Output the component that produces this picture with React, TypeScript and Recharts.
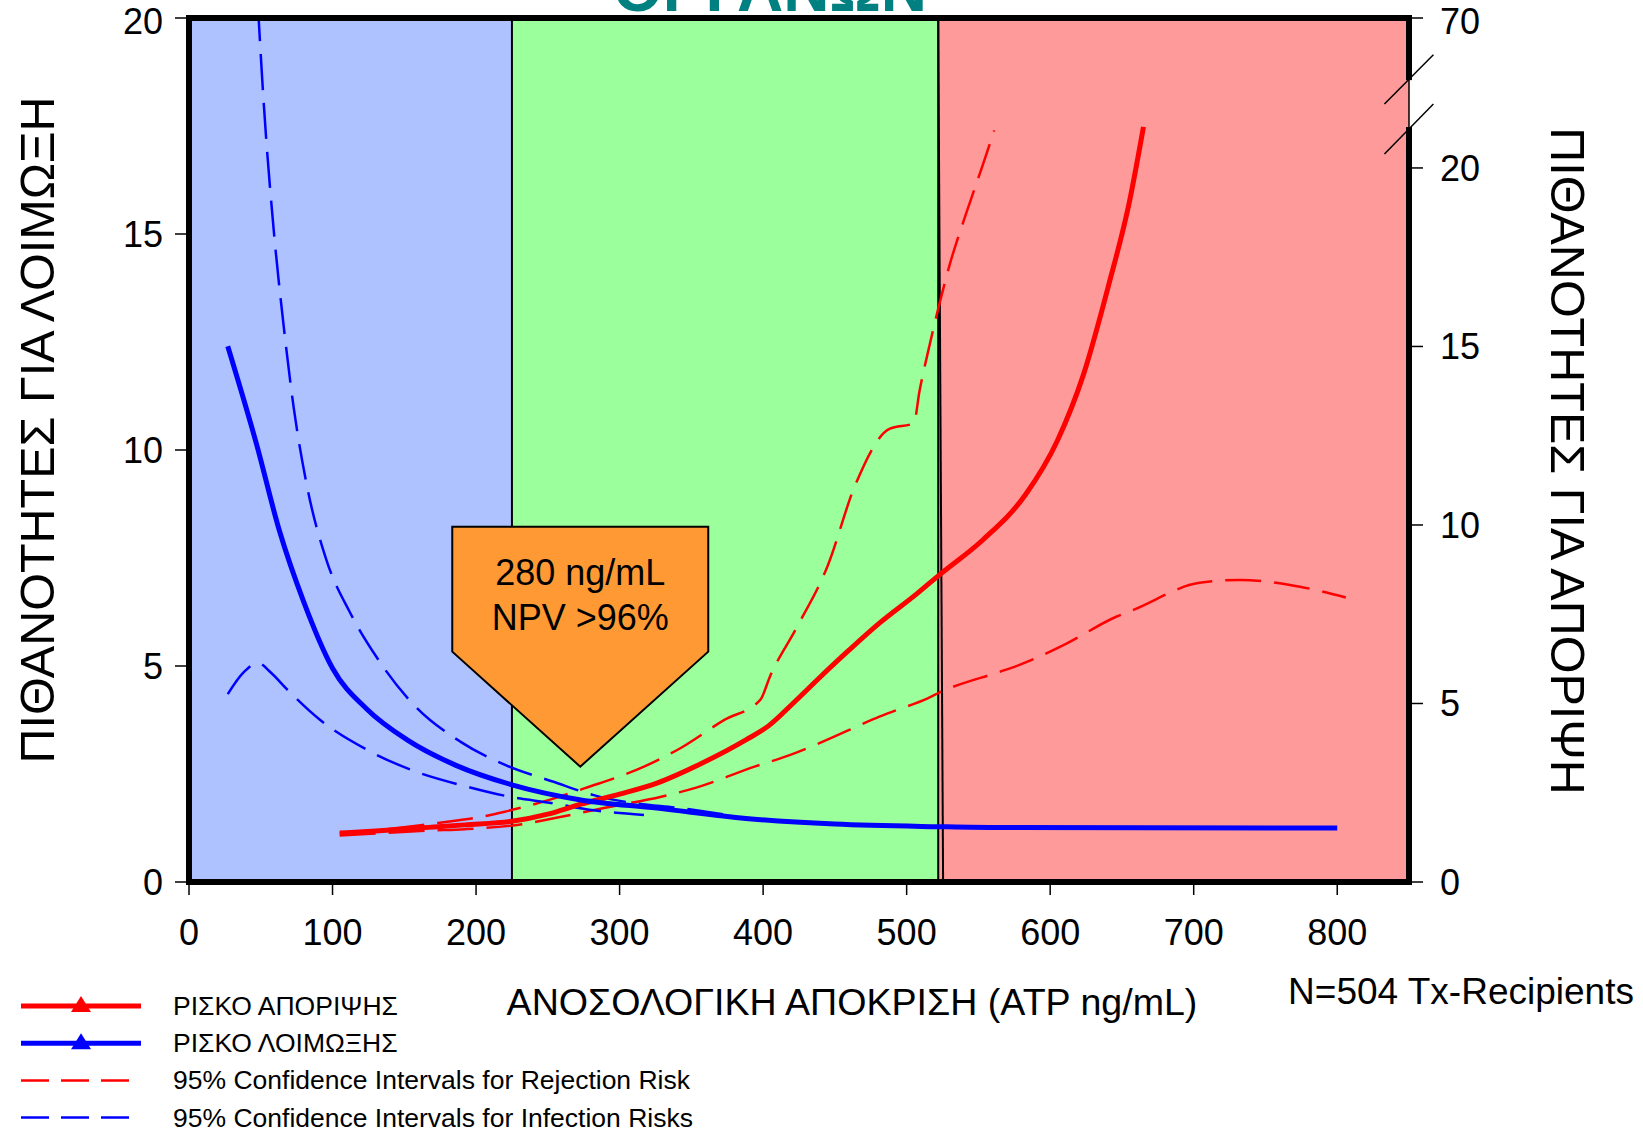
import React from "react";
import {
  Customized,
  Line,
  LineChart,
  ReferenceArea,
  ReferenceDot,
  ReferenceLine,
  XAxis,
  YAxis,
} from "recharts";

// ATP response (ng/mL) on the x axis
const atpTicks = [0, 100, 200, 300, 400, 500, 600, 700, 800];
const infectionTicks = [0, 5, 10, 15, 20];
const rejectionTicks = [0, 5, 10, 15, 20, 24.2];
const rejectionTickLabels = ["0", "5", "10", "15", "20", "70"];

// zone boundaries: low / moderate / strong immune response
const zoneEdges = [0, 225, 522, 850];

// rejection risk (right axis)
const rejectionAtp = [105, 130, 167, 192, 225, 250, 273, 300, 326, 357, 388, 404, 422, 440, 460, 481, 507, 523, 553, 583, 605, 623, 641, 655, 665];
const rejectionRisk = [1.37, 1.43, 1.53, 1.6, 1.7, 1.9, 2.18, 2.46, 2.77, 3.32, 3.98, 4.38, 5.05, 5.75, 6.5, 7.25, 8.07, 8.61, 9.58, 10.86, 12.36, 14.19, 16.76, 19.01, 21.15];

const rejUpperAtp = [105, 130, 160, 180, 200, 220, 251, 276, 317, 342, 373, 398, 405, 423, 445, 464, 488, 505, 509, 516, 523, 530, 542, 553, 561];
const rejUpper = [1.37, 1.45, 1.58, 1.69, 1.8, 1.97, 2.3, 2.63, 3.23, 3.74, 4.54, 5.1, 5.78, 7.1, 8.86, 11.1, 12.69, 12.85, 13.76, 15.04, 16.22, 17.29, 18.79, 20.08, 21.05];

const rejLowerAtp = [105, 130, 167, 192, 232, 255, 290, 329, 354, 394, 419, 460, 481, 492, 515, 523, 565, 576, 611, 646, 658, 704, 732, 774, 806];
const rejLower = [1.3, 1.36, 1.44, 1.48, 1.62, 1.79, 2.08, 2.39, 2.65, 3.23, 3.56, 4.26, 4.63, 4.8, 5.15, 5.31, 5.89, 6.04, 6.67, 7.43, 7.62, 8.38, 8.46, 8.27, 7.97];

// infection risk (left axis)
const infectionAtp = [27, 47, 63, 80, 100, 124, 152, 186, 225, 273, 326, 388, 450, 522, 565, 800];
const infectionRisk = [12.4, 10.14, 8.13, 6.48, 4.95, 4.0, 3.29, 2.7, 2.25, 1.9, 1.71, 1.47, 1.34, 1.28, 1.26, 1.25];

const infUpperAtp = [48, 52, 59, 66, 73, 82, 96, 112, 131, 156, 189, 221, 254, 282, 351, 380];
const infUpper = [20.3, 18.06, 15.1, 12.86, 10.97, 9.2, 7.43, 6.25, 5.19, 4.12, 3.25, 2.7, 2.32, 2.01, 1.67, 1.53];

const infLowerAtp = [27, 38, 48, 57, 68, 91, 124, 156, 191, 221, 254, 282, 317];
const infLower = [4.35, 4.85, 5.07, 4.85, 4.47, 3.76, 3.06, 2.58, 2.23, 1.99, 1.82, 1.66, 1.55];

// callout arrow pointing at the 280 ng/mL cut-off
const calloutTip = { atp: 272.6, risk: 2.67 };
const calloutLines = ["280 ng/mL", "NPV >96%"];

const FONT = "'Liberation Sans', Arial, Helvetica, sans-serif";
const RED = "#ff0000";
const BLUE = "#0000ff";
const ZONE_COLORS = ["#adc2ff", "#9bff9b", "#ff9a9a"];
const DASH = "36 13";

function zip(xs: number[], ys: number[]) {
  return xs.map((atp, i) => ({ atp, risk: ys[i] }));
}

const legendItems = [
  { label: "ΡΙΣΚΟ ΑΠΟΡΙΨΗΣ", color: RED, dashed: false },
  { label: "ΡΙΣΚΟ ΛΟΙΜΩΞΗΣ", color: BLUE, dashed: false },
  { label: "95% Confidence Intervals for Rejection Risk", color: RED, dashed: true },
  { label: "95% Confidence Intervals for Infection Risks", color: BLUE, dashed: true },
];

function Callout({ cx, cy }: { cx: number; cy: number }) {
  const w = 256;
  const h = 240;
  const shoulder = 125;
  const top = cy - h;
  const l = cx - w / 2;
  const r = cx + w / 2;
  const d = `M${l},${top} L${r},${top} L${r},${top + shoulder} L${cx},${cy} L${l},${top + shoulder} Z`;
  return (
    <g>
      <path d={d} fill="#ff9933" stroke="#000" strokeWidth={2} />
      {calloutLines.map((t, i) => (
        <text key={t} x={cx} y={top + 58 + i * 45} textAnchor="middle" fontSize={36} fontFamily={FONT} fill="#000">
          {t}
        </text>
      ))}
    </g>
  );
}

function Decorations() {
  return (
    <g fontFamily={FONT}>
      <text x={770} y={11} textAnchor="middle" fontSize={64} fontWeight="bold" fill="#008080">
        ΟΡΓΑΝΩΝ
      </text>
      <text
        transform="translate(37,430) rotate(-90)"
        textAnchor="middle"
        dominantBaseline="central"
        fontSize={48.5}
        fill="#000"
      >
        ΠΙΘΑΝΟΤΗΤΕΣ ΓΙΑ ΛΟΙΜΩΞΗ
      </text>
      <text
        transform="translate(1568,461) rotate(90)"
        textAnchor="middle"
        dominantBaseline="central"
        fontSize={48.5}
        fill="#000"
      >
        ΠΙΘΑΝΟΤΗΤΕΣ ΓΙΑ ΑΠΟΡΙΨΗ
      </text>
      <text x={852} y={1002} textAnchor="middle" dominantBaseline="central" fontSize={37.6} fill="#000">
        ΑΝΟΣΟΛΟΓΙΚΗ ΑΠΟΚΡΙΣΗ (ATP ng/mL)
      </text>
      <text x={1461} y={991} textAnchor="middle" dominantBaseline="central" fontSize={37} fill="#000">
        N=504 Tx-Recipients
      </text>
      {legendItems.map((item, i) => {
        const cy = 1006 + i * 37.2;
        return (
          <g key={item.label}>
            {item.dashed ? (
              <line x1={21} x2={131} y1={cy} y2={cy} stroke={item.color} strokeWidth={2.5} strokeDasharray="28 12" />
            ) : (
              <>
                <line x1={21} x2={141} y1={cy} y2={cy} stroke={item.color} strokeWidth={5} />
                <path d={`M${71},${cy + 6} L${91},${cy + 6} L${81},${cy - 10} Z`} fill={item.color} />
              </>
            )}
            <text x={173} y={cy} dominantBaseline="central" fontSize={26.5} fill="#000">
              {item.label}
            </text>
          </g>
        );
      })}
    </g>
  );
}

export default function App() {
  const tickStyle = { fontSize: 36, fill: "#000", fontFamily: FONT };
  const frame = { stroke: "#000", strokeWidth: 6 };
  return (
    <div style={{ position: "absolute", left: 0, top: 0, width: 1643, height: 1132, background: "#fff" }}>
      <LineChart width={1643} height={1132} margin={{ top: 18, right: 134, bottom: 190, left: 89 }}>
        <XAxis
          type="number"
          dataKey="atp"
          domain={[0, 850]}
          ticks={atpTicks}
          allowDataOverflow
          height={60}
          tickSize={13}
          tickMargin={24}
          tick={tickStyle}
          tickLine={{ stroke: "#000", strokeWidth: 1.5 }}
          axisLine={{ ...frame, strokeLinecap: "square" }}
        />
        <YAxis
          yAxisId="left"
          domain={[0, 20]}
          ticks={infectionTicks}
          allowDataOverflow
          width={100}
          tickSize={14}
          tickMargin={12}
          tick={tickStyle}
          tickLine={{ stroke: "#000", strokeWidth: 1.5 }}
          axisLine={{ ...frame, strokeLinecap: "square" }}
        />
        <YAxis
          yAxisId="right"
          orientation="right"
          domain={[0, 24.2]}
          ticks={rejectionTicks}
          tickFormatter={(v: number) => rejectionTickLabels[rejectionTicks.indexOf(v)] ?? String(v)}
          allowDataOverflow
          width={100}
          tickSize={14}
          tickMargin={17}
          tick={{ ...tickStyle, textAnchor: "start" }}
          tickLine={{ stroke: "#000", strokeWidth: 1.5 }}
          axisLine={false}
        />

        {ZONE_COLORS.map((c, i) => (
          <ReferenceArea
            key={c}
            yAxisId="left"
            x1={zoneEdges[i]}
            x2={zoneEdges[i + 1]}
            y1={0}
            y2={20}
            fill={c}
            fillOpacity={1}
            stroke="none"
          />
        ))}
        <ReferenceLine yAxisId="left" x={zoneEdges[1]} stroke="#000" strokeWidth={2} />
        <ReferenceLine yAxisId="left" x={zoneEdges[2]} stroke="#000" strokeWidth={2} />
        <ReferenceLine
          yAxisId="left"
          segment={[{ x: zoneEdges[2], y: 20 }, { x: 525.4, y: 0 }]}
          stroke="#000"
          strokeWidth={2}
        />

        <Line yAxisId="right" data={zip(rejUpperAtp, rejUpper)} dataKey="risk" type="monotone" stroke={RED} strokeWidth={2.5} strokeDasharray={DASH} dot={false} isAnimationActive={false} />
        <Line yAxisId="right" data={zip(rejLowerAtp, rejLower)} dataKey="risk" type="monotone" stroke={RED} strokeWidth={2.5} strokeDasharray={DASH} dot={false} isAnimationActive={false} />
        <Line yAxisId="left" data={zip(infUpperAtp, infUpper)} dataKey="risk" type="monotone" stroke={BLUE} strokeWidth={2.5} strokeDasharray={DASH} dot={false} isAnimationActive={false} />
        <Line yAxisId="left" data={zip(infLowerAtp, infLower)} dataKey="risk" type="monotone" stroke={BLUE} strokeWidth={2.5} strokeDasharray={DASH} dot={false} isAnimationActive={false} />
        <Line yAxisId="right" data={zip(rejectionAtp, rejectionRisk)} dataKey="risk" type="monotone" stroke={RED} strokeWidth={5} dot={false} isAnimationActive={false} />
        <Line yAxisId="left" data={zip(infectionAtp, infectionRisk)} dataKey="risk" type="monotone" stroke={BLUE} strokeWidth={5} dot={false} isAnimationActive={false} />

        {/* frame: top edge and the broken right edge */}
        <ReferenceLine yAxisId="left" y={20} stroke="#000" strokeWidth={6} strokeLinecap="square" />
        <ReferenceLine yAxisId="right" segment={[{ x: 850, y: 24.2 }, { x: 850, y: 22.46 }]} stroke="#000" strokeWidth={6} />
        <ReferenceLine yAxisId="right" segment={[{ x: 850, y: 22.46 }, { x: 850, y: 21.06 }]} stroke="#000" strokeWidth={1.5} />
        <ReferenceLine yAxisId="right" segment={[{ x: 850, y: 21.06 }, { x: 850, y: 0 }]} stroke="#000" strokeWidth={6} strokeLinecap="square" />
        <ReferenceLine yAxisId="right" ifOverflow="visible" segment={[{ x: 832.9, y: 21.79 }, { x: 867, y: 23.17 }]} stroke="#000" strokeWidth={1.5} />
        <ReferenceLine yAxisId="right" ifOverflow="visible" segment={[{ x: 832.9, y: 20.39 }, { x: 867, y: 21.79 }]} stroke="#000" strokeWidth={1.5} />

        <ReferenceDot
          yAxisId="left"
          x={calloutTip.atp}
          y={calloutTip.risk}
          r={1}
          ifOverflow="visible"
          shape={(p: any) => <Callout cx={p.cx} cy={p.cy} />}
        />

        <Customized component={Decorations} />
      </LineChart>
    </div>
  );
}
